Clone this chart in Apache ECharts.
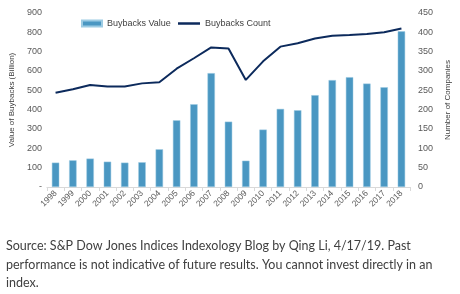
<!DOCTYPE html>
<html>
<head>
<meta charset="utf-8">
<script src="https://cdn.jsdelivr.net/npm/echarts@6/dist/echarts.min.js"></script>
<style>
html,body{margin:0;padding:0;background:#fff;}
#chart{width:460px;height:294px;}
</style>
</head>
<body>
<div id="chart"></div>
<script>
// years
var years = ['1998','1999','2000','2001','2002','2003','2004','2005','2006','2007','2008',
    '2009','2010','2011','2012','2013','2014','2015','2016','2017','2018'];
// buybacks value (billion)
var buybackValue = [126,138,147,131,126,128,195,345,428,589,338,136,297,404,397,475,553,568,535,516,805];
// number of companies
var buybackCount = [244,253,264,260,260,268,271,306,333,361,358,277,325,363,372,384,391,393,396,400,410];

var sourceText = 'Source: S&P Dow Jones Indices Indexology Blog by Qing Li, 4/17/19. Past\n' +
    'performance is not indicative of future results. You cannot invest directly in an\n' +
    'index.';

var myChart = echarts.init(document.getElementById('chart'));
var option = {
    animation: false,
    textStyle: { fontFamily: 'Liberation Sans, Arial, sans-serif' },
    // two legends so the line key can be a thin bar without a dot
    legend: [
        {
            top: 14, left: 76,
            itemWidth: 20, itemHeight: 6,
            textStyle: { fontSize: 9, color: '#404040' },
            data: [{ name: 'Buybacks Value', icon: 'rect' }]
        },
        {
            top: 14, left: 173,
            itemWidth: 22, itemHeight: 2.5,
            textStyle: { fontSize: 9, color: '#404040' },
            data: [{ name: 'Buybacks Count', icon: 'rect' }]
        }
    ],
    grid: { left: 37, right: 35, top: 13, bottom: 107 },
    xAxis: {
        type: 'category',
        data: years,
        axisLine: { lineStyle: { color: '#d9d9d9' } },
        axisTick: { show: true, lineStyle: { color: '#d9d9d9' }, length: 4 },
        axisLabel: { interval: 0, rotate: 45, fontSize: 8.5, color: '#595959', margin: 5 }
    },
    yAxis: [
        {
            type: 'value', min: 0, max: 900, interval: 100,
            name: 'Value of Buybacks (Billion)',
            nameLocation: 'middle', nameGap: 26,
            nameTextStyle: { fontSize: 8, color: '#404040' },
            splitLine: { show: false },
            axisLine: { show: false },
            axisLabel: {
                fontSize: 9, color: '#595959', margin: 5,
                formatter: function (v) { return v === 0 ? '-' : v; }
            }
        },
        {
            type: 'value', min: 0, max: 450, interval: 50,
            name: 'Number of Companies',
            nameLocation: 'middle', nameGap: 24, nameRotate: 90,
            nameTextStyle: { fontSize: 8, color: '#404040' },
            splitLine: { show: false },
            axisLine: { show: false },
            axisLabel: { fontSize: 9, color: '#595959', margin: 8 }
        }
    ],
    series: [
        {
            name: 'Buybacks Value',
            type: 'bar',
            data: buybackValue,
            barWidth: '43%',
            itemStyle: { color: '#4a97c2', borderColor: '#9ccbe3', borderWidth: 0.5 }
        },
        {
            name: 'Buybacks Count',
            type: 'line',
            yAxisIndex: 1,
            data: buybackCount,
            showSymbol: false,
            symbol: 'none',
            lineStyle: { color: '#0c2a5c', width: 2 },
            itemStyle: { color: '#0c2a5c' }
        }
    ],
    graphic: [
        {
            type: 'text',
            left: 6,
            top: 237,
            style: {
                text: sourceText,
                fontSize: 12.5,
                lineHeight: 18.5,
                fill: '#404040',
                fontFamily: 'Lato, Noto Sans, sans-serif'
            }
        }
    ]
};
myChart.setOption(option);
</script>
</body>
</html>
